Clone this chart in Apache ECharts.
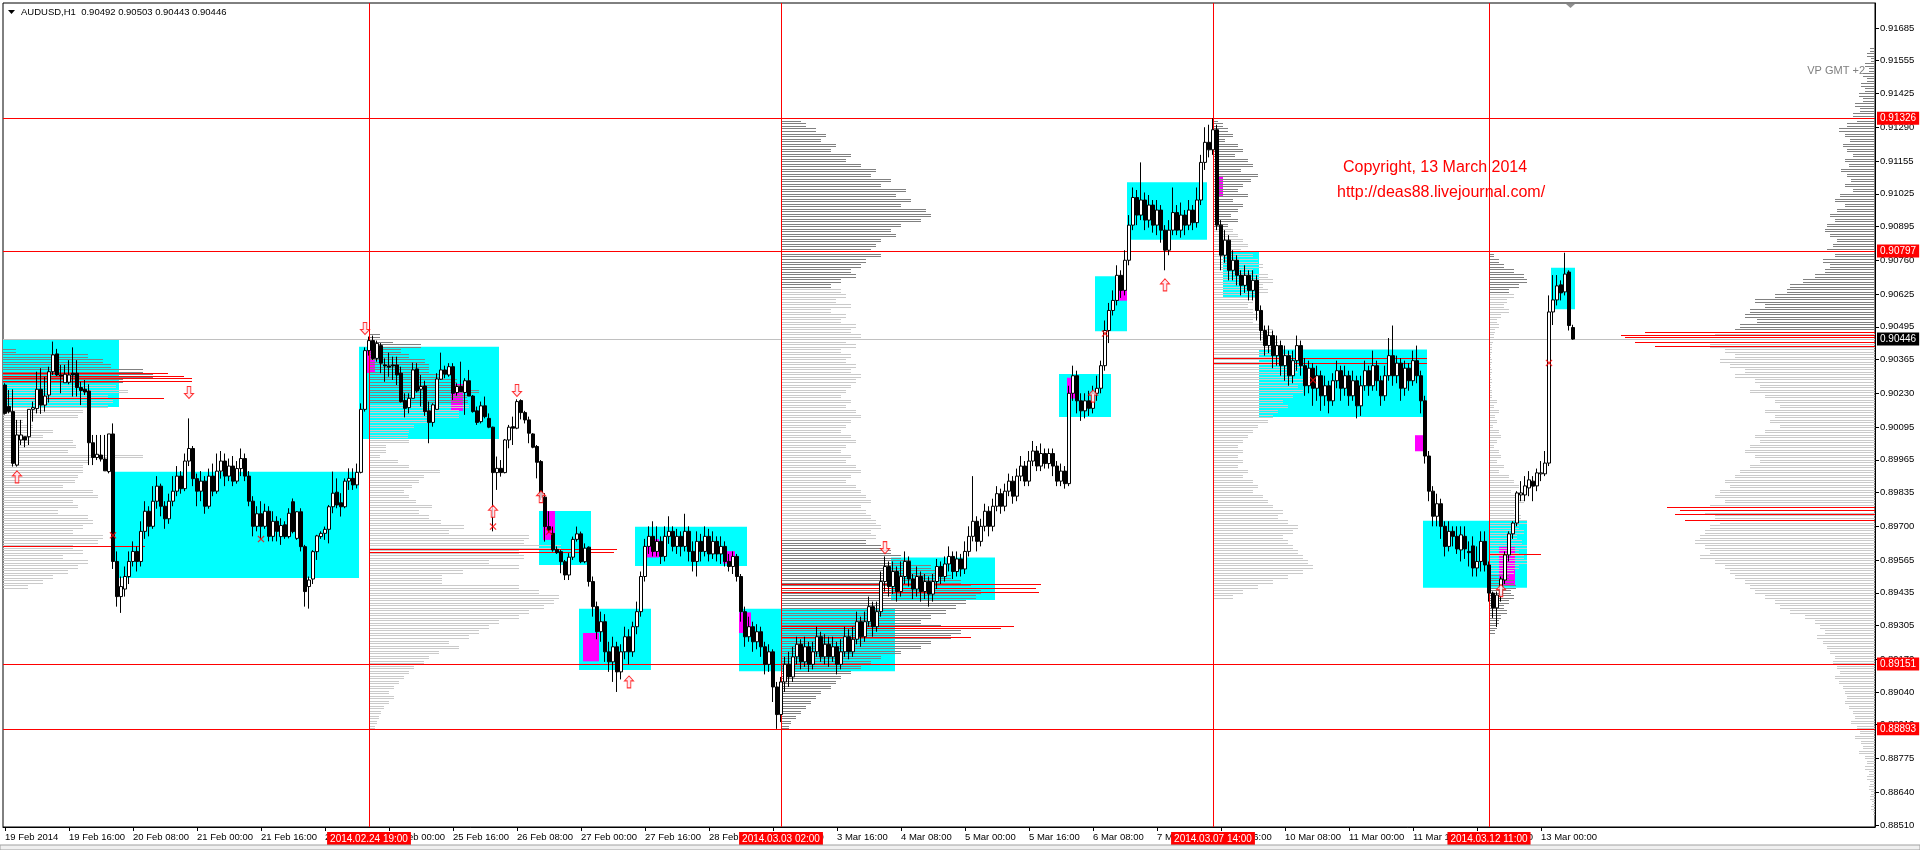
<!DOCTYPE html>
<html><head><meta charset="utf-8">
<script src="https://cdn.jsdelivr.net/npm/echarts@6/dist/echarts.min.js"></script>
<style>html,body{margin:0;padding:0;background:#fff;overflow:hidden}#c{width:1920px;height:850px}</style>
</head><body><div id="c"></div>
<script>
// ---------------- DATA ----------------
const symbolTitle = 'AUDUSD,H1';
// hourly bars, prices in points (1e-5): [open, high, low, close]
const ohlc = [
[90263,90270,90145,90150],[90177,90243,90150,90157],[90157,90246,89938,89951],[89944,90124,89938,90064],[90044,90124,90024,90064],[90057,90057,90015,90044],[90057,90166,90024,90166],[90166,90197,90117,90173],[90169,90316,90150,90246],[90246,90330,90148,90183],
[90183,90296,90157,90219],[90223,90336,90193,90316],[90316,90436,90303,90383],[90387,90407,90299,90303],[90303,90343,90230,90299],[90272,90343,90272,90306],[90274,90362,90266,90303],[90310,90413,90217,90303],[90310,90362,90217,90253],[90253,90276,90183,90241],
[90246,90283,90223,90235],[90239,90266,89944,90033],[90033,90064,89944,89974],[89974,90064,89964,89987],[89984,90064,89958,89968],[89968,90064,89921,89921],[89918,90068,89911,90068],[90068,90110,89530,89560],[89560,89600,89380,89420],[89420,89500,89355,89460],
[89450,89540,89420,89500],[89500,89600,89470,89560],[89560,89640,89540,89600],[89600,89620,89520,89560],[89560,89720,89540,89680],[89680,89800,89650,89760],[89760,89780,89660,89700],[89700,89860,89690,89800],[89800,89900,89770,89860],[89860,89870,89740,89780],
[89780,89800,89690,89730],[89730,89830,89710,89800],[89800,89900,89780,89840],[89840,89940,89820,89900],[89900,89920,89830,89850],[89850,89990,89840,89960],[89960,90130,89940,90010],[90010,90020,89860,89890],[89890,89910,89780,89840],[89840,89920,89800,89880],
[89880,89900,89750,89780],[89780,89930,89770,89900],[89900,89950,89820,89840],[89840,89990,89830,89920],[89920,90000,89890,89960],[89960,89990,89860,89900],[89900,89970,89880,89940],[89940,89980,89860,89880],[89880,89960,89870,89930],[89930,90010,89900,89970],
[89970,89990,89880,89900],[89900,89920,89780,89800],[89800,89820,89660,89700],[89700,89780,89680,89750],[89750,89800,89650,89700],[89700,89790,89690,89760],[89760,89780,89640,89660],[89660,89760,89640,89720],[89720,89740,89640,89680],[89659,89732,89626,89703],
[89706,89720,89650,89659],[89659,89772,89652,89752],[89798,89811,89672,89679],[89652,89760,89646,89758],[89758,89772,89600,89619],[89619,89626,89380,89440],[89460,89500,89372,89486],[89490,89605,89470,89599],[89599,89666,89566,89662],[89659,89680,89650,89672],
[89672,89699,89646,89688],[89688,89785,89632,89778],[89778,89918,89752,89832],[89836,89891,89772,89785],[89794,89832,89739,89778],[89778,89891,89772,89880],[89880,89931,89845,89891],[89891,89931,89845,89865],[89865,89950,89851,89915],[89915,90190,89911,90166],
[90166,90413,90157,90400],[90400,90456,90380,90440],[90440,90460,90363,90369],[90369,90440,90356,90429],[90420,90430,90310,90350],[90343,90369,90276,90339],[90339,90392,90296,90334],[90343,90376,90283,90339],[90343,90376,90263,90303],[90310,90336,90193,90197],
[90201,90230,90134,90170],[90173,90230,90150,90210],[90210,90352,90210,90323],[90327,90350,90233,90239],[90246,90303,90177,90257],[90259,90280,90140,90157],[90160,90197,90031,90114],[90114,90190,90097,90184],[90166,90310,90164,90287],[90286,90392,90283,90323],
[90323,90340,90290,90306],[90303,90350,90296,90336],[90336,90350,90203,90230],[90233,90270,90220,90257],[90257,90356,90237,90237],[90233,90290,90144,90280],[90280,90323,90219,90219],[90219,90223,90153,90157],[90160,90177,90104,90114],[90117,90197,90110,90180],
[90180,90217,90130,90137],[90130,90150,90091,90095],[90095,90097,89680,89914],[89914,89978,89845,89931],[89931,89964,89898,89914],[89914,90048,89911,90044],[90044,90104,90011,90095],[90097,90137,90024,90091],[90091,90206,90087,90197],[90201,90206,90126,90153],
[90153,90160,90110,90124],[90124,90137,90031,90071],[90068,90071,90011,90015],[90018,90024,89891,89955],[89958,89964,89805,89816],[89816,89832,89639,89699],[89699,89760,89675,89685],[89672,89699,89599,89606],[89608,89620,89590,89595],[89599,89606,89513,89559],
[89559,89566,89486,89506],[89506,89593,89486,89577],[89577,89659,89566,89648],[89648,89699,89639,89670],[89670,89679,89553,89559],[89559,89632,89553,89613],[89617,89620,89460,89480],[89480,89500,89340,89380],[89380,89400,89250,89280],[89280,89360,89240,89320],
[89320,89350,89160,89200],[89200,89240,89120,89160],[89160,89260,89080,89220],[89220,89240,89040,89120],[89120,89230,89090,89200],[89200,89300,89170,89260],[89260,89290,89150,89200],[89200,89320,89180,89300],[89300,89400,89270,89360],[89360,89520,89340,89500],
[89500,89650,89480,89620],[89620,89700,89590,89660],[89660,89720,89580,89600],[89600,89700,89580,89640],[89640,89660,89550,89580],[89580,89700,89560,89660],[89660,89740,89630,89680],[89680,89700,89600,89620],[89620,89690,89590,89660],[89660,89680,89580,89620],
[89620,89750,89600,89680],[89680,89700,89560,89600],[89600,89640,89520,89560],[89560,89680,89500,89640],[89640,89670,89560,89600],[89600,89700,89580,89660],[89660,89690,89560,89590],[89590,89680,89570,89640],[89640,89660,89560,89590],[89590,89660,89550,89620],
[89620,89640,89540,89560],[89560,89590,89520,89540],[89540,89600,89510,89580],[89580,89590,89480,89500],[89500,89510,89320,89360],[89360,89380,89220,89260],[89260,89340,89240,89300],[89300,89320,89200,89240],[89240,89310,89210,89280],[89280,89300,89180,89220],
[89220,89240,89110,89150],[89150,89230,89120,89200],[89200,89210,89000,89060],[89060,89080,88893,88950],[88950,89100,88920,89080],[89080,89180,89040,89150],[89150,89200,89060,89100],[89100,89220,89080,89180],[89180,89260,89150,89230],[89230,89250,89130,89160],
[89160,89260,89140,89220],[89220,89240,89120,89150],[89150,89240,89130,89200],[89200,89300,89180,89260],[89260,89280,89160,89180],[89180,89270,89150,89230],[89230,89260,89140,89180],[89180,89260,89160,89220],[89220,89240,89110,89150],[89150,89250,89130,89200],
[89200,89300,89180,89260],[89260,89290,89170,89200],[89200,89300,89180,89250],[89250,89360,89230,89320],[89320,89340,89220,89260],[89260,89360,89240,89320],[89320,89420,89300,89380],[89380,89400,89260,89300],[89300,89400,89280,89360],[89360,89520,89340,89480],
[89480,89580,89440,89540],[89540,89560,89420,89460],[89460,89560,89430,89520],[89520,89540,89400,89440],[89440,89560,89420,89500],[89500,89600,89470,89560],[89560,89580,89460,89490],[89490,89510,89410,89450],[89450,89540,89420,89500],[89500,89520,89400,89440],
[89440,89510,89410,89480],[89480,89500,89380,89430],[89430,89510,89400,89480],[89480,89570,89450,89540],[89540,89560,89470,89500],[89500,89580,89480,89550],[89550,89620,89520,89580],[89580,89600,89490,89520],[89520,89600,89500,89570],[89570,89590,89500,89530],
[89530,89640,89510,89600],[89600,89700,89580,89660],[89660,89900,89640,89720],[89720,89740,89600,89640],[89640,89730,89620,89700],[89700,89790,89680,89760],[89760,89780,89660,89700],[89700,89810,89680,89780],[89780,89860,89760,89830],[89830,89850,89750,89780],
[89780,89870,89760,89840],[89840,89910,89820,89880],[89880,89900,89790,89820],[89820,89930,89800,89900],[89900,89980,89880,89940],[89940,89960,89860,89880],[89880,90000,89860,89960],[89960,90040,89940,90000],[90000,90020,89920,89940],[89940,90030,89920,89990],
[89990,90010,89930,89950],[89950,90010,89930,89990],[89990,90010,89900,89940],[89940,89960,89860,89880],[89880,89950,89860,89920],[89920,89940,89850,89870],[89870,90260,89860,90230],[90230,90340,90200,90300],[90300,90320,90150,90200],[90200,90230,90120,90160],
[90160,90230,90130,90200],[90200,90240,90140,90170],[90170,90260,90150,90230],[90230,90300,90200,90250],[90250,90360,90230,90340],[90340,90520,90320,90480],[90480,90590,90430,90560],[90560,90640,90540,90600],[90600,90740,90580,90700],[90700,90720,90610,90640],
[90640,90800,90620,90760],[90760,90940,90740,90900],[90900,91050,90880,91010],[91010,91040,90900,90940],[90940,91150,90920,91000],[91000,91030,90880,90920],[90920,91020,90890,90980],[90980,91000,90870,90900],[90900,91000,90860,90960],[90960,90980,90830,90880],
[90880,90900,90720,90800],[90800,90920,90780,90880],[90880,91050,90860,90950],[90950,90980,90860,90880],[90880,90990,90850,90940],[90940,90960,90860,90900],[90900,91000,90880,90960],[90960,90980,90880,90910],[90910,91050,90890,91000],[91000,91180,90980,91150],
[91150,91290,91120,91230],[91230,91300,91170,91200],[91200,91326,91180,91280],[91280,91300,90880,90900],[90900,90920,90720,90780],[90780,90880,90750,90840],[90840,90860,90680,90720],[90720,90800,90680,90760],[90760,90780,90660,90700],[90700,90720,90620,90660],
[90660,90740,90630,90700],[90700,90720,90600,90640],[90640,90720,90600,90680],[90680,90700,90520,90560],[90560,90580,90440,90480],[90480,90500,90380,90420],[90420,90500,90390,90460],[90460,90480,90330,90380],[90380,90460,90340,90420],[90420,90440,90300,90340],
[90340,90420,90280,90380],[90380,90400,90260,90300],[90300,90400,90270,90360],[90360,90460,90320,90420],[90420,90440,90300,90340],[90340,90370,90220,90260],[90260,90360,90230,90330],[90330,90350,90180,90250],[90250,90340,90200,90300],[90300,90320,90160,90220],
[90220,90300,90180,90260],[90260,90280,90150,90200],[90200,90310,90180,90280],[90280,90360,90250,90320],[90320,90340,90200,90250],[90250,90340,90220,90300],[90300,90320,90180,90220],[90220,90320,90200,90280],[90280,90300,90130,90180],[90180,90300,90140,90260],
[90260,90360,90240,90320],[90320,90340,90220,90260],[90260,90400,90240,90340],[90340,90360,90240,90280],[90280,90300,90180,90220],[90220,90340,90200,90300],[90300,90450,90280,90380],[90380,90500,90260,90300],[90300,90380,90270,90350],[90350,90370,90200,90250],
[90250,90360,90220,90330],[90330,90350,90240,90280],[90280,90400,90260,90360],[90360,90420,90270,90300],[90300,90320,90150,90200],[90200,90220,89950,89980],[89980,90000,89800,89840],[89840,89860,89700,89740],[89740,89830,89700,89790],[89790,89810,89650,89700],
[89700,89720,89580,89620],[89620,89720,89600,89680],[89680,89700,89620,89660],[89660,89700,89590,89610],[89606,89700,89560,89666],[89660,89700,89570,89610],[89600,89640,89540,89595],[89622,89660,89500,89534],[89534,89620,89500,89560],[89560,89680,89520,89640],
[89640,89680,89520,89546],[89546,89560,89400,89434],[89434,89440,89335,89375],[89375,89440,89299,89426],[89426,89500,89400,89490],[89486,89600,89470,89586],[89586,89680,89560,89670],[89670,89720,89650,89713],[89713,89840,89700,89833],[89825,89880,89800,89833],
[89825,89900,89800,89861],[89853,89920,89820,89885],[89880,89900,89800,89860],[89861,89930,89840,89913],[89909,89960,89880,89913],[89909,90000,89900,89952],[89952,90620,89940,90554],[90554,90701,90502,90602],[90602,90701,90580,90658],[90662,90680,90600,90630],
[90634,90790,90620,90705],[90713,90720,90480,90500],[90492,90503,90443,90446]
];
const barSlots = 468; // visible hourly slots incl. empty future space
const xTickLabels = ['19 Feb 2014','19 Feb 16:00','20 Feb 08:00','21 Feb 00:00','21 Feb 16:00','24 Feb 08:00','25 Feb 00:00','25 Feb 16:00','26 Feb 08:00','27 Feb 00:00','27 Feb 16:00','28 Feb 08:00','3 Mar 00:00','3 Mar 16:00','4 Mar 08:00','5 Mar 00:00','5 Mar 16:00','6 Mar 08:00','7 Mar 00:00','7 Mar 16:00','10 Mar 08:00','11 Mar 00:00','11 Mar 16:00','12 Mar 08:00','13 Mar 00:00'];
const yTickLabels = ['0.91685','0.91555','0.91425','0.91290','0.91155','0.91025','0.90895','0.90760','0.90625','0.90495','0.90365','0.90230','0.90095','0.89965','0.89835','0.89700','0.89565','0.89435','0.89305','0.89170','0.89040','0.88910','0.88775','0.88640','0.88510'];
const vLineBars = [91,194,302,371];
const vLineLabels = ['2014.02.24 19:00','2014.03.03 02:00','2014.03.07 14:00','2014.03.12 11:00'];
const hLevels = [0.91326,0.90797,0.89151,0.88893];
// [firstBar, lastBar, top, bottom]
const cyanBoxes = [[0,28,0.90446,0.90175],[28,88,0.89917,0.89494],[89,123,0.90415,0.90048],[134,146,0.89761,0.89546],[144,161,0.89372,0.89128],[158,185,0.89698,0.89542],[184,222,0.89372,0.89123],[222,247,0.89576,0.89406],[264,276,0.90307,0.90136],[273,280,0.90696,0.90477],[281,300,0.91071,0.90842],[305,313,0.90794,0.90614],[314,355,0.90404,0.90136],[355,380,0.89722,0.89455],[387,392,0.90730,0.90565]];
const magentaBoxes = [[91,92,0.90411,0.90311],[112,114,0.90267,0.90160],[135,137,0.89761,0.89646],[145,148,0.89275,0.89162],[161,163,0.89649,0.89576],[180,182,0.89601,0.89552],[184,186,0.89357,0.89275],[266,268,0.90292,0.90209],[278,280,0.90682,0.90599],[303,304,0.91096,0.91013],[353,355,0.90063,0.89999],[374,377,0.89618,0.89466]];
const downArrows = [[46,0.90233],[90,0.90488],[128,0.90241],[220,0.89615]];
const upArrows = [[3,0.89897],[122,0.89760],[134,0.89818],[156,0.89080],[272,0.90219],[290,0.90662],[374,0.89444]];
const crossMarks = [[27,0.89664],[64,0.89649],[122,0.89699],[136,0.89678],[275,0.90468],[327,0.90282],[386,0.90351]];
// volume profiles: anchor ('left' edge, bar index, or 'right' edge), top price, rows every 0.0002 downward
const profileAnchors = ['left',91,194,302,371,'right'];
const profileTops = [0.9040,0.9046,0.9132,0.9132,0.9078,0.9160];
const profile1 = [13,85,100,108,140,150,120,113,125,105,110,105,80,75,20,30,50,40,70,73,65,140,85,80,80,75,72,60,90,95,70,75,55,85,90,80,70,100,95,70,80,60,85,75,65,50,40,25];
const profile2 = [11,24,52,32,40,56,60,60,73,88,96,110,98,99,100,90,90,60,45,40,39,40,17,17,11,29,40,71,55,50,43,35,40,47,63,50,60,72,95,80,160,155,192,150,155,120,150,94,73,73,150,170,190,185,175,160,150,130,120,110,100,80,90,70,60,55,45,40,35,30,25,20,25,20,15,12,10,8,6];
const profile3 = [20,25,35,45,40,55,50,70,65,80,95,90,110,100,125,115,130,120,145,150,140,120,110,115,100,95,90,100,85,80,70,75,60,50,
60,65,55,70,50,65,60,75,70,80,65,75,60,70,65,75,70,80,75,70,65,60,70,65,75,80,70,65,60,70,75,65,60,70,65,75,80,70,65,75,80,85,90,80,85,90,95,100,90,95,
85,100,110,120,130,150,160,170,180,190,200,195,185,175,165,150,140,160,180,170,150,140,120,100,90,80,70,60,55,50,40,35,30,25,20,15,10,8];
const profile4 = [5,10,15,20,12,25,30,22,35,40,28,45,38,30,25,35,20,30,25,18,25,15,
20,25,30,35,28,40,45,50,40,55,60,50,55,45,40,35,40,45,40,50,60,55,65,60,70,80,75,90,85,80,95,85,90,80,70,75,65,60,55,45,40,35,30,25,30,25,30,25,35,30,40,45,40,50,55,60,70,65,75,85,80,70,75,80,85,90,95,100,90,75,60,45,30,20];
const profile5 = [5,10,15,25,35,38,30,20,
25,18,15,20,12,8,10,6,5,4,3,3,2,3,2,3,2,3,2,3,3,8,5,10,6,8,4,10,12,8,5,10,12,8,15,10,20,25,30,22,28,35,30,25,32,38,30,35,28,33,38,30,35,38,30,25,
20,25,27,22,25,20,15,18,12,10,8,6];
const profile6 = [5,8,4,10,6,12,8,14,10,16,12,20,15,22,18,28,36,30,25,32,28,22,30,26,34,28,24,30,22,35,40,30,38,45,40,48,50,45,38,42,48,40,52,45,50,60,72,85,88,100,
120,110,125,130,118,135,140,160,170,165,150,140,155,145,130,140,120,115,125,110,100,95,110,100,105,95,110,120,115,125,130,120,115,125,135,140,150,145,155,160,
150,165,170,160,155,165,170,175,180,170,165,175,160,150,145,140,130,125,120,110,100,95,85,70,60,55,50,58,52,48,45,40,42,38,35,40,36,32,30,28,30,26,22,20,24,18,15,20,14,12,16,10,8,10,6,8,5,6,4,5,3,4,2];
// highlighted (red) profile rows: [price, volume]
const profileRed1 = [[0.90310,165],[0.90299,181],[0.90290,189],[0.90279,189],[0.90210,161],[0.89622,142]];
const profileRed2 = [[0.89608,248],[0.89598,245]];
const profileRed3 = [[0.89469,260],[0.89455,255],[0.89440,258],[0.89304,233],[0.89294,220],[0.89260,190]];
const profileRed4 = [[0.90370,214],[0.90351,214]];
const profileRed5 = [[0.89590,52]];
const profileRed6 = [[0.90474,230],[0.90464,254],[0.90454,250],[0.90434,240],[0.90420,220],[0.89777,208],[0.89765,195],[0.89750,200],[0.89725,190]];

// ---------------- BUILD ----------------
const PT = 1e-5, ROW = 0.0002, VOL_PX = 1;
const FONT = '"Liberation Sans", Arial, sans-serif';
const profileVols = [profile1,profile2,profile3,profile4,profile5,profile6];
const profileReds = [profileRed1,profileRed2,profileRed3,profileRed4,profileRed5,profileRed6];
// style: price ranges drawn in dark grey per profile
const darkRanges = [[[0.90275,1]],[[0.90195,1]],[[0.90655,1],[0,0.89645]],[[0.90895,1]],[[0.90635,1],[0,0.89505]],[[0.90475,1]]];

const cats = Array.from({length: barSlots}, (_, i) => String(i));
const candleData = ohlc.map(r => [r[0]*PT, r[3]*PT, r[2]*PT, r[1]*PT]);
const last = ohlc[ohlc.length-1];
const lastClose = last[3]*PT;
const yTickValues = yTickLabels.map(Number);
const profData = [];
profileVols.forEach((vols, pi) => {
  vols.forEach((v, k) => profData.push([pi, +(profileTops[pi] - k*ROW).toFixed(5), v, 0]));
  profileReds[pi].forEach(r => profData.push([pi, r[0], r[1], 1]));
});
const lblInt = (i) => i % 16 === 0 && i / 16 < xTickLabels.length;

function isDark(pi, p) { return darkRanges[pi].some(r => p >= r[0] && p <= r[1]); }

function renderProfile(params, api) {
  const pi = api.value(0), price = api.value(1), vol = api.value(2), red = api.value(3);
  const cs = params.coordSys;
  const anchor = profileAnchors[pi];
  let x0, dir = 1;
  if (anchor === 'left') x0 = cs.x;
  else if (anchor === 'right') { x0 = cs.x + cs.width; dir = -1; }
  else x0 = api.coord([anchor, price])[0];
  const x1 = x0 + dir * vol * VOL_PX;
  if (red) {
    const y = Math.round(api.coord([0, price])[1]) + 0.5;
    return {type:'line', shape:{x1:x0, y1:y, x2:x1, y2:y}, style:{stroke:'#ff0000', lineWidth:1}};
  }
  const col = isDark(pi, price) ? '#808080' : '#cacaca';
  const ya = Math.round(api.coord([0, price + ROW/4])[1]) + 0.5;
  const yb = Math.round(api.coord([0, price - ROW/4])[1]) + 0.5;
  return {type:'group', children:[
    {type:'line', shape:{x1:x0, y1:ya, x2:x1, y2:ya}, style:{stroke:col, lineWidth:1}},
    {type:'line', shape:{x1:x0, y1:yb, x2:x1, y2:yb}, style:{stroke:col, lineWidth:1}}
  ]};
}
function boxRenderer(color) {
  return function (params, api) {
    const a = api.coord([api.value(0), api.value(2)]);
    const b = api.coord([api.value(1), api.value(3)]);
    const half = api.size([1, 0])[0] / 2;
    return {type:'rect', shape:{x:a[0]-half, y:a[1], width:b[0]-a[0]+2*half, height:b[1]-a[1]}, style:{fill:color}};
  };
}

const chart = echarts.init(document.getElementById('c'), null, {renderer:'canvas'});
const redLabel = (bg) => ({show:true, position:'end', distance:2, color:'#fff', backgroundColor:bg, padding:[2,3,1,3], fontSize:10, fontFamily:FONT, formatter:(p)=>(+p.value).toFixed(5)});
const markData = [];
hLevels.forEach(v => markData.push({yAxis:v, lineStyle:{color:'#ff0000', width:1, type:'solid'}, label:redLabel('#ff0000')}));
markData.push({yAxis:lastClose, lineStyle:{color:'#c0c0c0', width:1, type:'solid'}, label:redLabel('#000000')});
vLineBars.forEach((b, i) => markData.push({xAxis:b, lineStyle:{color:'#ff0000', width:1, type:'solid'},
  label:{show:true, position:'start', distance:5, color:'#fff', backgroundColor:'#ff0000', padding:[2,3,1,3], fontSize:10, fontFamily:FONT, formatter:vLineLabels[i]}}));

chart.setOption({
  animation:false,
  backgroundColor:'#ffffff',
  grid:{left:3, top:3, width:1872, height:824, show:true, borderColor:'#000', borderWidth:1, backgroundColor:'#fff'},
  xAxis:{type:'category', data:cats, boundaryGap:true,
    axisLine:{show:true, lineStyle:{color:'#000'}},
    axisTick:{show:true, alignWithLabel:true, interval:lblInt, length:4, lineStyle:{color:'#000'}},
    axisLabel:{interval:lblInt, formatter:(v, i) => xTickLabels[i/16] || '', align:'left', margin:5, fontSize:9.5, color:'#000', fontFamily:FONT},
    splitLine:{show:false}},
  yAxis:{type:'value', position:'right', min:0.88502, max:0.91785,
    axisLine:{show:true, lineStyle:{color:'#000'}},
    axisTick:{show:true, length:4, customValues:yTickValues, lineStyle:{color:'#000'}},
    axisLabel:{customValues:yTickValues, formatter:(v)=>v.toFixed(5), margin:5, fontSize:9.5, color:'#000', fontFamily:FONT},
    splitLine:{show:false}},
  series:[
    {type:'custom', name:'boxes', z:1, clip:true, silent:true, renderItem:boxRenderer('#00ffff'), data:cyanBoxes, encode:{x:[0,1], y:[2,3]}},
    {type:'custom', name:'magenta', z:2, clip:true, silent:true, renderItem:boxRenderer('#ff00ff'), data:magentaBoxes, encode:{x:[0,1], y:[2,3]}},
    {type:'custom', name:'profiles', z:3, clip:true, silent:true, renderItem:renderProfile, data:profData, encode:{x:0, y:1}},
    {type:'line', name:'levels', z:4, data:[], silent:true, markLine:{symbol:['none','none'], precision:5, silent:true, animation:false, data:markData}},
    {type:'candlestick', name:symbolTitle, z:5, barWidth:3, data:candleData,
      itemStyle:{color:'#ffffff', color0:'#000000', borderColor:'#000000', borderColor0:'#000000', borderWidth:1}},
    {type:'scatter', z:6, silent:true, data:downArrows, symbol:'path://M3,0 L7,0 L7,7 L10,7 L5,12 L0,7 L3,7 Z', symbolSize:[9,12],
      itemStyle:{color:'#ffe4ec', borderColor:'#ff0000', borderWidth:1}},
    {type:'scatter', z:6, silent:true, data:upArrows, symbol:'path://M5,0 L10,5 L7,5 L7,12 L3,12 L3,5 L0,5 Z', symbolSize:[9,12],
      itemStyle:{color:'#ffe4ec', borderColor:'#ff0000', borderWidth:1}},
    {type:'scatter', z:6, silent:true, data:crossMarks, symbol:'path://M0,1 L1,0 L4,3 L7,0 L8,1 L5,4 L8,7 L7,8 L4,5 L1,8 L0,7 L3,4 Z', symbolSize:7,
      itemStyle:{color:'#ff0000'}}
  ],
  graphic:[
    {type:'polygon', silent:true, shape:{points:[[8,10],[15,10],[11.5,14]]}, style:{fill:'#000'}, z:10},
    {type:'text', silent:true, x:21, y:12, z:10, style:{text:symbolTitle + '  ' + last.map(v => (v*PT).toFixed(5)).join(' '), fill:'#000', font:'9.5px ' + FONT, verticalAlign:'middle'}},
    {type:'text', silent:true, x:1343, y:168, z:10, style:{text:'Copyright, 13 March 2014', fill:'#ff0000', font:'16px ' + FONT, verticalAlign:'middle'}},
    {type:'text', silent:true, x:1337, y:193, z:10, style:{text:'http://deas88.livejournal.com/', fill:'#ff0000', font:'16px ' + FONT, verticalAlign:'middle'}},
    {type:'text', silent:true, x:1865, y:71, z:10, style:{text:'VP GMT +2', fill:'#808080', font:'11px ' + FONT, align:'right', verticalAlign:'middle'}},
    {type:'polygon', silent:true, shape:{points:[[1566,4],[1575,4],[1570.5,8]]}, style:{fill:'#909090'}, z:10},
    {type:'rect', silent:true, shape:{x:0, y:845, width:1920, height:5}, style:{fill:'#f0f0f0', stroke:'#a0a0a0', lineWidth:1}, z:10}
  ]
});
</script></body></html>
